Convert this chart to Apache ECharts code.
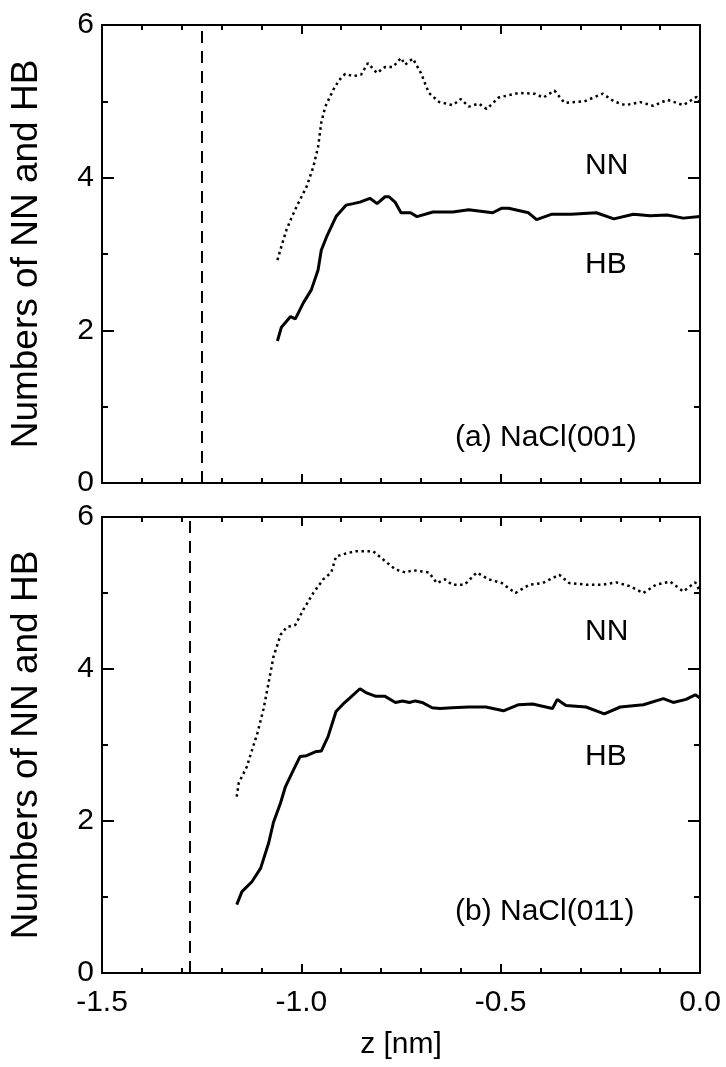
<!DOCTYPE html>
<html>
<head>
<meta charset="utf-8">
<script src="https://cdn.jsdelivr.net/npm/echarts@6/dist/echarts.min.js"></script>
<style>html,body{margin:0;padding:0;background:#fff}#c{width:726px;height:1067px}</style>
</head>
<body>
<div id="c"></div>
<script>
// ---------- data ----------
const xTicks = [-1.5, -1.0, -0.5, 0.0];
const yTicks = [0, 2, 4, 6];
const panelLabels = ['(a) NaCl(001)', '(b) NaCl(011)'];
const surfaceZ = [-1.25, -1.28];

const zA_NN = [-1.06,-1.05,-1.037,-1.025,-1.012,-0.987,-0.97,-0.958,-0.95,-0.94,-0.92,-0.905,-0.89,-0.87,-0.85,-0.833,-0.81,-0.79,-0.77,-0.75,-0.74,-0.72,-0.70,-0.68,-0.654,-0.62,-0.60,-0.58,-0.555,-0.535,-0.505,-0.455,-0.415,-0.393,-0.365,-0.34,-0.29,-0.244,-0.216,-0.187,-0.15,-0.117,-0.082,-0.042,-0.008,0.0];
const vA_NN = [2.92,3.10,3.32,3.47,3.62,3.88,4.14,4.40,4.72,4.93,5.15,5.28,5.36,5.33,5.35,5.50,5.37,5.45,5.45,5.57,5.48,5.56,5.37,5.11,4.99,4.95,5.03,4.93,4.97,4.90,5.05,5.11,5.10,5.05,5.14,4.98,5.00,5.10,5.00,4.95,4.99,4.94,5.02,4.95,5.06,4.98];

const zA_HB = [-1.06,-1.05,-1.027,-1.015,-0.995,-0.975,-0.958,-0.95,-0.937,-0.913,-0.888,-0.87,-0.853,-0.828,-0.81,-0.79,-0.78,-0.765,-0.75,-0.726,-0.71,-0.67,-0.62,-0.58,-0.52,-0.497,-0.48,-0.43,-0.41,-0.373,-0.323,-0.26,-0.216,-0.167,-0.125,-0.082,-0.042,0.0];
const vA_HB = [1.86,2.04,2.18,2.15,2.36,2.53,2.79,3.05,3.22,3.49,3.64,3.66,3.68,3.73,3.66,3.75,3.75,3.68,3.54,3.54,3.49,3.55,3.55,3.58,3.54,3.60,3.60,3.54,3.45,3.52,3.52,3.54,3.46,3.52,3.50,3.51,3.47,3.49];

const zB_NN = [-1.162,-1.157,-1.137,-1.11,-1.095,-1.082,-1.07,-1.052,-1.037,-1.015,-0.995,-0.97,-0.945,-0.925,-0.913,-0.888,-0.863,-0.82,-0.79,-0.764,-0.739,-0.72,-0.68,-0.66,-0.64,-0.622,-0.59,-0.56,-0.53,-0.497,-0.463,-0.428,-0.395,-0.353,-0.328,-0.286,-0.244,-0.21,-0.176,-0.142,-0.11,-0.075,-0.042,-0.012,0.0];
const vB_NN = [2.32,2.50,2.71,3.16,3.47,3.82,4.16,4.45,4.55,4.58,4.78,5.00,5.18,5.27,5.48,5.52,5.55,5.55,5.42,5.31,5.27,5.30,5.27,5.13,5.18,5.11,5.11,5.27,5.18,5.13,5.00,5.11,5.13,5.24,5.13,5.11,5.11,5.14,5.09,5.00,5.11,5.15,5.02,5.14,5.02];

const zB_HB = [-1.162,-1.149,-1.124,-1.102,-1.082,-1.07,-1.052,-1.04,-1.02,-1.003,-0.987,-0.965,-0.95,-0.933,-0.913,-0.895,-0.878,-0.853,-0.838,-0.813,-0.79,-0.764,-0.746,-0.729,-0.714,-0.697,-0.672,-0.652,-0.622,-0.58,-0.537,-0.493,-0.455,-0.42,-0.37,-0.358,-0.336,-0.286,-0.24,-0.2,-0.142,-0.092,-0.067,-0.035,-0.012,0.0];
const vB_HB = [0.90,1.07,1.20,1.38,1.71,1.98,2.24,2.45,2.67,2.85,2.86,2.91,2.92,3.11,3.44,3.54,3.62,3.74,3.69,3.64,3.64,3.56,3.58,3.56,3.58,3.56,3.49,3.48,3.49,3.50,3.50,3.45,3.53,3.54,3.48,3.60,3.52,3.50,3.41,3.50,3.53,3.61,3.56,3.60,3.66,3.62];

// ---------- chart ----------
const FONT = '"Liberation Sans", Arial, sans-serif';
const zip = (a, b) => a.map((x, i) => [x, b[i]]);
const grids = [
  {left: 97, top: 25, width: 603, height: 458},
  {left: 97, top: 517, width: 603, height: 456}
];

const axLine = {show: true, onZero: false, lineStyle: {color: '#000', width: 2}};
function xAx(g, pos, labels) {
  return {
    type: 'value', gridIndex: g, position: pos,
    min: xTicks[0], max: xTicks[xTicks.length - 1], interval: 0.5,
    axisLine: axLine,
    axisTick: {show: true, inside: true, length: 9, lineStyle: {color: '#000', width: 2}},
    minorTick: {show: true, splitNumber: 5, length: 5, lineStyle: {color: '#000', width: 2}},
    splitLine: {show: false},
    axisLabel: {show: labels, color: '#000', fontFamily: FONT, fontSize: 30, margin: 15,
      formatter: v => v.toFixed(1)},
    name: labels ? 'z [nm]' : '', nameLocation: 'middle', nameGap: 57,
    nameTextStyle: {color: '#000', fontFamily: FONT, fontSize: 30}
  };
}
function yAx(g, pos, labels) {
  return {
    type: 'value', gridIndex: g, position: pos,
    min: yTicks[0], max: yTicks[yTicks.length - 1], interval: 2,
    axisLine: axLine,
    axisTick: {show: true, inside: true, length: 12, lineStyle: {color: '#000', width: 2}},
    minorTick: {show: true, splitNumber: 2, length: 6, lineStyle: {color: '#000', width: 2}},
    splitLine: {show: false},
    axisLabel: {show: labels, color: '#000', fontFamily: FONT, fontSize: 30, margin: 8},
    name: labels ? 'Numbers of NN and HB' : '', nameLocation: 'middle', nameGap: 57,
    nameTextStyle: {color: '#000', fontFamily: FONT, fontSize: 37}
  };
}

const xAxes = [], yAxes = [], series = [];
[0, 1].forEach(g => {
  xAxes.push(xAx(g, 'bottom', g === 1));
  xAxes.push(xAx(g, 'top', false));
  yAxes.push(yAx(g, 'left', true));
  yAxes.push(yAx(g, 'right', false));
});

const panels = [
  {nn: zip(zA_NN, vA_NN), hb: zip(zA_HB, vA_HB)},
  {nn: zip(zB_NN, vB_NN), hb: zip(zB_HB, vB_HB)}
];
panels.forEach((p, g) => {
  series.push({
    type: 'line', xAxisIndex: 2 * g, yAxisIndex: 2 * g, data: p.nn,
    showSymbol: false, smooth: false, silent: true,
    lineStyle: {color: '#000', width: 2.5, type: [2.5, 3.5]},
    markLine: {
      silent: true, symbol: ['none', 'none'], label: {show: false},
      lineStyle: {color: '#000', width: 2, type: [12, 8]},
      data: [{xAxis: surfaceZ[g]}]
    }
  });
  series.push({
    type: 'line', xAxisIndex: 2 * g, yAxisIndex: 2 * g, data: p.hb,
    showSymbol: false, smooth: false, silent: true,
    lineStyle: {color: '#000', width: 3}
  });
});

const txt = (x, y, t) => ({type: 'text', x, y,
  style: {text: t, fill: '#000', font: '30px ' + FONT, textVerticalAlign: 'middle'}});

const chart = echarts.init(document.getElementById('c'), null, {renderer: 'canvas'});
chart.setOption({
  backgroundColor: '#fff',
  animation: false,
  grid: grids,
  xAxis: xAxes,
  yAxis: yAxes,
  series: series,
  graphic: [
    txt(585, 166, 'NN'), txt(585, 265, 'HB'), txt(455, 438, panelLabels[0]),
    txt(585, 632, 'NN'), txt(585, 757, 'HB'), txt(455, 912, panelLabels[1])
  ]
});
</script>
</body>
</html>
